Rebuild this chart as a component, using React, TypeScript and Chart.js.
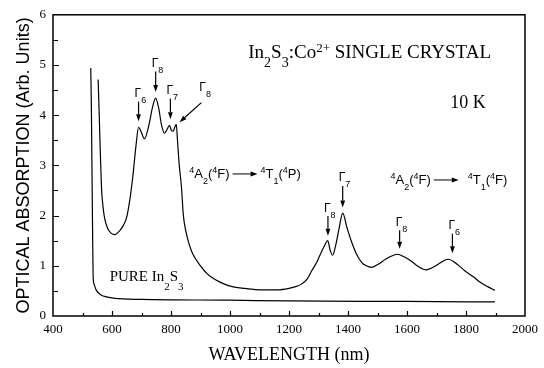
import React, { useEffect, useRef } from "react";
import { Chart, registerables } from "chart.js";

Chart.register(...registerables);

// ---- data ----
const wavelengthCo = [
  553, 558, 564, 570, 576, 585, 597, 609, 620, 635, 649, 660, 670, 682, 690, 698, 710, 725, 737, 748,
  758, 768, 778, 787, 795, 801, 807, 813, 818, 822, 828, 835, 842, 850, 858, 869, 882, 896, 918, 940,
  968, 997, 1050, 1109, 1160, 1200, 1225, 1243, 1262, 1277, 1295, 1311, 1322, 1331, 1340, 1348, 1358,
  1370, 1382, 1397, 1412, 1430, 1446, 1462, 1480, 1505, 1527, 1550, 1567, 1590, 1615, 1640, 1665, 1685,
  1706, 1725, 1740, 1770, 1796, 1825, 1851, 1875, 1898,
];
const absorptionCo = [
  4.71, 3.75, 2.6, 2.15, 1.92, 1.75, 1.65, 1.62, 1.66, 1.77, 1.95, 2.3, 2.75, 3.43, 3.76, 3.68, 3.53, 3.8, 4.15, 4.34,
  4.15, 3.8, 3.64, 3.72, 3.8, 3.7, 3.68, 3.76, 3.82, 3.5, 3.0, 2.6, 2.0, 1.7, 1.5, 1.3, 1.15, 1.03, 0.87, 0.76,
  0.67, 0.6, 0.55, 0.52, 0.52, 0.55, 0.59, 0.64, 0.74, 0.9, 1.08, 1.29, 1.42, 1.5, 1.3, 1.21, 1.4,
  1.75, 2.05, 1.75, 1.48, 1.22, 1.07, 1.0, 0.97, 1.04, 1.13, 1.2, 1.23, 1.18, 1.09, 0.98, 0.92, 0.96,
  1.03, 1.1, 1.13, 1.03, 0.9, 0.78, 0.66, 0.58, 0.51,
];
const wavelengthPure = [528, 530, 532, 534, 536, 540, 547, 560, 581, 610, 700, 1000, 1200, 1600, 1898];
const absorptionPure = [4.94, 4.2, 3.0, 1.8, 0.8, 0.62, 0.51, 0.43, 0.38, 0.35, 0.33, 0.315, 0.3, 0.29, 0.28];

const xTickLabels = [400, 600, 800, 1000, 1200, 1400, 1600, 1800, 2000];
const yTickLabels = [0, 1, 2, 3, 4, 5, 6];

// ---- annotations (data units) ----
const gammaArrows = [
  { sub: "6", x1: 690, y1: 4.27, x2: 690, y2: 3.88, lx: 676.5, ly: 4.36 },
  { sub: "8", x1: 748, y1: 4.87, x2: 748, y2: 4.46, lx: 734.5, ly: 4.96 },
  { sub: "7", x1: 798, y1: 4.33, x2: 798, y2: 3.92, lx: 784.5, ly: 4.42 },
  { sub: "8", x1: 903, y1: 4.25, x2: 829, y2: 3.86, lx: 896, ly: 4.48 },
  { sub: "8", x1: 1332, y1: 1.99, x2: 1332, y2: 1.6, lx: 1318.5, ly: 2.08 },
  { sub: "7", x1: 1382, y1: 2.59, x2: 1382, y2: 2.16, lx: 1368.5, ly: 2.68 },
  { sub: "8", x1: 1575, y1: 1.71, x2: 1575, y2: 1.34, lx: 1561.5, ly: 1.8 },
  { sub: "6", x1: 1754, y1: 1.64, x2: 1754, y2: 1.25, lx: 1740.5, ly: 1.73 },
];

type Seg = { t: string; k: "n" | "sup" | "sub" };
const SANS = '"Liberation Sans", Arial, sans-serif';
const SERIF = '"Liberation Serif", "Times New Roman", serif';

const titleSegs: Seg[] = [
  { t: "In", k: "n" }, { t: "2", k: "sub" }, { t: "S", k: "n" }, { t: "3", k: "sub" },
  { t: ":Co", k: "n" }, { t: "2+", k: "sup" }, { t: " SINGLE CRYSTAL", k: "n" },
];
const pureSegs: Seg[] = [
  { t: "PURE In", k: "n" }, { t: "2", k: "sub" }, { t: "S", k: "n" }, { t: "3", k: "sub" },
];
const trans1Left: Seg[] = [
  { t: "4", k: "sup" }, { t: "A", k: "n" }, { t: "2", k: "sub" }, { t: "(", k: "n" }, { t: "4", k: "sup" }, { t: "F)", k: "n" },
];
const trans1Right: Seg[] = [
  { t: "4", k: "sup" }, { t: "T", k: "n" }, { t: "1", k: "sub" }, { t: "(", k: "n" }, { t: "4", k: "sup" }, { t: "P)", k: "n" },
];
const trans2Right: Seg[] = [
  { t: "4", k: "sup" }, { t: "T", k: "n" }, { t: "1", k: "sub" }, { t: "(", k: "n" }, { t: "4", k: "sup" }, { t: "F)", k: "n" },
];

function drawRich(ctx: CanvasRenderingContext2D, x: number, y: number, segs: Seg[], size: number, fam: string, subLow: number, supRaise: number, subScale = 0.72) {
  let cx = x;
  ctx.textAlign = "left";
  ctx.textBaseline = "alphabetic";
  for (const s of segs) {
    if (s.k === "n") {
      ctx.font = `${size}px ${fam}`;
      ctx.fillText(s.t, cx, y);
    } else if (s.k === "sub") {
      ctx.font = `${Math.round(size * subScale)}px ${fam}`;
      ctx.fillText(s.t, cx, y + size * subLow);
    } else {
      ctx.font = `${Math.round(size * 0.68)}px ${fam}`;
      ctx.fillText(s.t, cx, y - size * supRaise);
    }
    cx += ctx.measureText(s.t).width;
  }
  return cx;
}

function arrow(ctx: CanvasRenderingContext2D, x1: number, y1: number, x2: number, y2: number, head = 7, hw = 2.6, lw = 1.2) {
  const ang = Math.atan2(y2 - y1, x2 - x1);
  const bx = x2 - head * Math.cos(ang);
  const by = y2 - head * Math.sin(ang);
  ctx.lineWidth = lw;
  ctx.beginPath();
  ctx.moveTo(x1, y1);
  ctx.lineTo(bx, by);
  ctx.stroke();
  ctx.beginPath();
  ctx.moveTo(x2, y2);
  ctx.lineTo(bx + hw * Math.sin(ang), by - hw * Math.cos(ang));
  ctx.lineTo(bx - hw * Math.sin(ang), by + hw * Math.cos(ang));
  ctx.closePath();
  ctx.fill();
}

const decorPlugin = {
  id: "decor",
  afterDatasetsDraw(chart: any) {
    const ctx: CanvasRenderingContext2D = chart.ctx;
    const xs = chart.scales.x;
    const ys = chart.scales.y;
    const { left, right, top, bottom } = chart.chartArea;
    ctx.save();
    ctx.strokeStyle = "#000";
    ctx.fillStyle = "#000";
    // frame
    ctx.lineWidth = 1.5;
    ctx.strokeRect(left, top, right - left, bottom - top);
    // ticks
    ctx.lineWidth = 1.2;
    ctx.beginPath();
    for (let v = 500; v < 2000; v += 100) {
      const px = Math.round(xs.getPixelForValue(v)) + 0.5;
      const len = v % 200 === 0 ? 5 : 3;
      ctx.moveTo(px, bottom);
      ctx.lineTo(px, bottom - len);
    }
    for (let v = 0.5; v < 6; v += 0.5) {
      const py = Math.round(ys.getPixelForValue(v)) + 0.5;
      const len = Math.abs(v - Math.round(v)) < 1e-6 ? 6 : 5;
      ctx.moveTo(left, py);
      ctx.lineTo(left + len, py);
    }
    ctx.stroke();

    // gamma arrows
    for (const g of gammaArrows) {
      const x1 = xs.getPixelForValue(g.x1), y1 = ys.getPixelForValue(g.y1);
      const x2 = xs.getPixelForValue(g.x2), y2 = ys.getPixelForValue(g.y2);
      arrow(ctx, x1, y1, x2, y2, 7, 2.4, 1.2);
      const lx = xs.getPixelForValue(g.lx), ly = ys.getPixelForValue(g.ly);
      drawRich(ctx, lx, ly, [{ t: "Γ", k: "n" }, { t: g.sub, k: "sub" }], 12, SANS, 0.5, 0.4, 0.78);
    }

    // title
    drawRich(ctx, xs.getPixelForValue(1062), ys.getPixelForValue(5.14), titleSegs, 19, SERIF, 0.5, 0.33);
    ctx.font = `18px ${SERIF}`;
    ctx.fillText("10 K", xs.getPixelForValue(1747), ys.getPixelForValue(4.15));
    drawRich(ctx, xs.getPixelForValue(592), ys.getPixelForValue(0.7), pureSegs, 15, SERIF, 0.6, 0.35);

    // transitions
    const drawTrans = (nx: number, v: number, rightSegs: Seg[], gap: number) => {
      const x = xs.getPixelForValue(nx), y = ys.getPixelForValue(v);
      let ex = drawRich(ctx, x, y, trans1Left, 13, SANS, 0.5, 0.4);
      arrow(ctx, ex + 3, y - 4, ex + 28, y - 4, 7, 2.5, 1);
      drawRich(ctx, ex + 28 + gap, y, rightSegs, 13, SANS, 0.5, 0.4);
    };
    drawTrans(862, 2.75, trans1Right, 3);
    drawTrans(1544, 2.63, trans2Right, 9);

    // axis titles
    ctx.font = `18px ${SERIF}`;
    ctx.textAlign = "center";
    ctx.textBaseline = "alphabetic";
    ctx.fillText("WAVELENGTH (nm)", (left + right) / 2, 360);
    ctx.save();
    ctx.translate(29, (top + bottom) / 2);
    ctx.rotate(-Math.PI / 2);
    ctx.font = `18px ${SANS}`;
    ctx.textAlign = "center";
    ctx.textBaseline = "alphabetic";
    ctx.fillText("OPTICAL ABSORPTION (Arb. Units)", 0, 0);
    ctx.restore();
    ctx.restore();
  },
};

export default function App() {
  const ref = useRef<HTMLCanvasElement | null>(null);
  useEffect(() => {
    if (!ref.current) return;
    const chart = new Chart(ref.current, {
      type: "line",
      data: {
        datasets: [
          {
            data: wavelengthCo.map((x, i) => ({ x, y: absorptionCo[i] })),
            borderColor: "#000",
            borderWidth: 1.2,
            pointRadius: 0,
            cubicInterpolationMode: "monotone",
            fill: false,
          },
          {
            data: wavelengthPure.map((x, i) => ({ x, y: absorptionPure[i] })),
            borderColor: "#000",
            borderWidth: 1.2,
            pointRadius: 0,
            cubicInterpolationMode: "monotone",
            fill: false,
          },
        ],
      },
      options: {
        animation: false,
        responsive: false,
        devicePixelRatio: 1,
        layout: { padding: { top: 8, right: 17, left: 0, bottom: 0 } },
        plugins: { legend: { display: false }, tooltip: { enabled: false } },
        scales: {
          x: {
            type: "linear",
            min: 400,
            max: 2000,
            afterBuildTicks: (s: any) => { s.ticks = xTickLabels.map((v) => ({ value: v })); },
            ticks: { color: "#000", font: { family: SERIF, size: 13 }, padding: 6, maxRotation: 0, autoSkip: false, callback: (v: any) => String(v) },
            grid: { display: false, drawTicks: false },
            border: { display: false },
            afterFit: (s: any) => { s.height = 52; },
          },
          y: {
            type: "linear",
            min: 0,
            max: 6,
            afterBuildTicks: (s: any) => { s.ticks = yTickLabels.map((v) => ({ value: v })); },
            ticks: { color: "#000", font: { family: SERIF, size: 13 }, padding: 7, autoSkip: false, callback: (v: any) => String(v) },
            grid: { display: false, drawTicks: false },
            border: { display: false },
            afterFit: (s: any) => { s.width = 53; },
          },
        },
      },
      plugins: [decorPlugin],
    } as any);
    return () => chart.destroy();
  }, []);
  return (
    <div style={{ position: "fixed", left: 0, top: 0, width: 544, height: 368, background: "#fff" }}>
      <canvas ref={ref} width={544} height={368} style={{ width: 544, height: 368, display: "block" }} />
    </div>
  );
}
